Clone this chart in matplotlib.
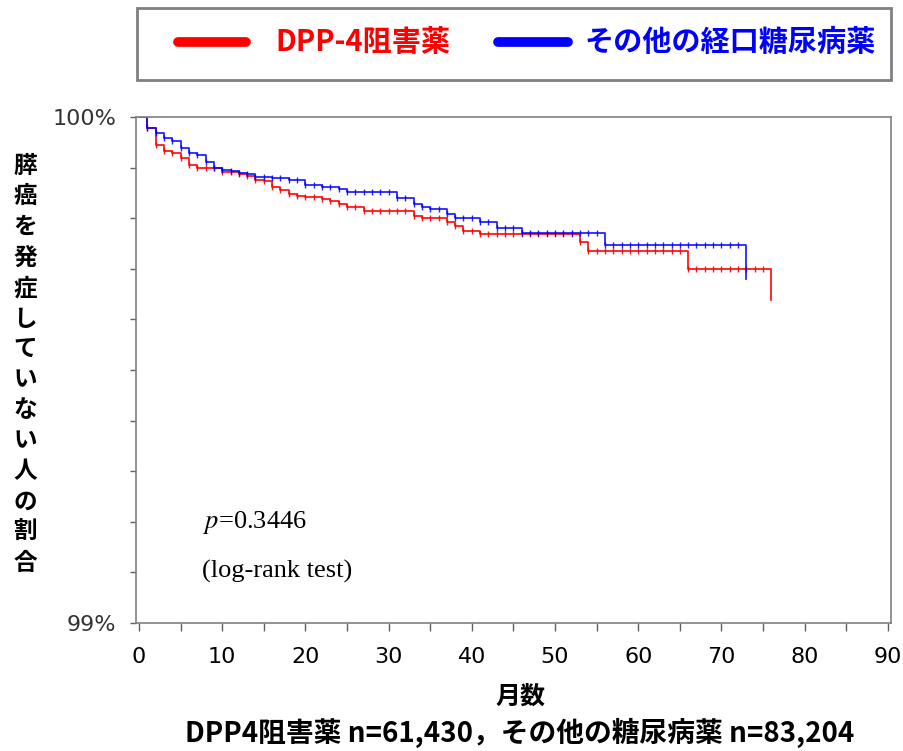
import matplotlib.pyplot as plt
from matplotlib.lines import Line2D
from matplotlib.patches import Rectangle

plt.rcParams['font.family'] = ['Noto Sans CJK JP', 'DejaVu Sans']
plt.rcParams['mathtext.fontset'] = 'stix'

# survival (%) at each month
dpp4_months = list(range(0, 77))
dpp4_surv = [100.0, 99.978, 99.945, 99.933, 99.928, 99.918, 99.906, 99.900, 99.900, 99.899,
             99.892, 99.891, 99.887, 99.883, 99.876, 99.874, 99.862, 99.856, 99.847, 99.844,
             99.841, 99.841, 99.837, 99.834, 99.829, 99.823, 99.823, 99.815, 99.815, 99.815,
             99.815, 99.815, 99.815, 99.805, 99.800, 99.800, 99.800, 99.792, 99.785, 99.775,
             99.775, 99.768, 99.768, 99.768, 99.768, 99.768, 99.768, 99.768, 99.768, 99.768,
             99.768, 99.768, 99.768, 99.752, 99.735, 99.735, 99.735, 99.735, 99.735, 99.735,
             99.735, 99.735, 99.735, 99.735, 99.735, 99.735, 99.700, 99.700, 99.700, 99.700,
             99.700, 99.700, 99.700, 99.700, 99.700, 99.700, 99.638]

other_months = list(range(0, 74))
other_surv = [100.0, 99.978, 99.969, 99.959, 99.952, 99.939, 99.928, 99.924, 99.912, 99.900,
              99.895, 99.893, 99.890, 99.888, 99.882, 99.882, 99.879, 99.879, 99.876, 99.875,
              99.865, 99.865, 99.861, 99.861, 99.858, 99.852, 99.852, 99.852, 99.852, 99.852,
              99.852, 99.839, 99.839, 99.828, 99.822, 99.818, 99.818, 99.809, 99.801, 99.801,
              99.801, 99.792, 99.792, 99.781, 99.781, 99.781, 99.770, 99.770, 99.770, 99.770,
              99.770, 99.770, 99.770, 99.770, 99.770, 99.770, 99.747, 99.747, 99.747, 99.747,
              99.747, 99.747, 99.747, 99.747, 99.747, 99.747, 99.747, 99.747, 99.747, 99.747,
              99.747, 99.747, 99.747, 99.679]

x_ticks = [0, 10, 20, 30, 40, 50, 60, 70, 80, 90]
x_minor = [0, 5, 10, 15, 20, 25, 30, 35, 40, 45, 50, 55, 60, 65, 70, 75, 80, 85, 90]
y_ticks = [99, 100]
y_ticklabels = ['99%', '100%']
y_minor = [99.1, 99.2, 99.3, 99.4, 99.5, 99.6, 99.7, 99.8, 99.9]

ylabel_chars = '膵癌を発症していない人の割合'

W, H = 904, 751
fig = plt.figure(figsize=(W / 100, H / 100), dpi=100)
ax = fig.add_axes([136 / W, 1 - 623 / H, 755 / W, 506 / H])

ax.plot(dpp4_months, dpp4_surv, drawstyle='steps-post', color='#ff0000', lw=1.3,
        marker='|', ms=5, mew=1, markevery=slice(1, -1), alpha=0.9)
ax.plot(other_months, other_surv, drawstyle='steps-post', color='#0000ff', lw=1.3,
        marker='|', ms=5, mew=1, markevery=slice(1, -1), alpha=0.85)

ax.set_xlim(-0.36, 90.38)
ax.set_ylim(99, 100)
ax.set_xticks(x_ticks)
ax.set_xticks(x_minor, minor=True)
ax.set_yticks(y_ticks)
ax.set_yticklabels(y_ticklabels)
ax.set_yticks(y_minor, minor=True)
ax.tick_params(axis='x', which='both', direction='out', length=6, width=1, color='#606060',
               labelsize=16, pad=11)
ax.tick_params(axis='y', which='both', direction='out', length=4, width=1, color='#606060',
               labelsize=16, pad=10, labelcolor='#333333')
for lbl in ax.get_xticklabels() + ax.get_yticklabels():
    lbl.set_family('DejaVu Sans')
for s in ax.spines.values():
    s.set_color('#808080')
    s.set_linewidth(1.2)

# p-value note
fig.text(203 / W, 1 - 528 / H, r'$p$=0.3446', family='Liberation Serif', fontsize=19, va='baseline')
fig.text(202 / W, 1 - 578 / H, '(log-rank test)', family='Liberation Serif', fontsize=19, va='baseline')

# vertical y label, one character per line
for i, ch in enumerate(ylabel_chars):
    fig.text(25 / W, 1 - (166 + i * 30.5) / H, ch, ha='center', va='center', fontsize=17,
             fontweight='bold')

fig.text(520 / W, 1 - 697 / H, '月数', ha='center', va='center', fontsize=18, fontweight='bold')
fig.text(520 / W, 1 - 733 / H, 'DPP4阻害薬 n=61,430，その他の糖尿病薬 n=83,204',
         ha='center', va='center', fontsize=20, fontweight='bold')

# legend box on top
fig.add_artist(Rectangle((137 / W, 1 - 80 / H), 754 / W, 72 / H, transform=fig.transFigure,
                         fill=False, edgecolor='#808080', lw=2))
fig.add_artist(Line2D([178 / W, 246 / W], [1 - 42 / H, 1 - 42 / H], transform=fig.transFigure,
                      color='#ff0000', lw=7, solid_capstyle='round'))
fig.add_artist(Line2D([498 / W, 568 / W], [1 - 42 / H, 1 - 42 / H], transform=fig.transFigure,
                      color='#0000ff', lw=7, solid_capstyle='round'))
fig.text(275 / W, 1 - 42 / H, 'DPP-4阻害薬', color='#ff0000', fontsize=21, fontweight='bold', va='center')
fig.text(584 / W, 1 - 42 / H, 'その他の経口糖尿病薬', color='#0000ff', fontsize=21, fontweight='bold', va='center')

fig.savefig('out.png', dpi=100)
